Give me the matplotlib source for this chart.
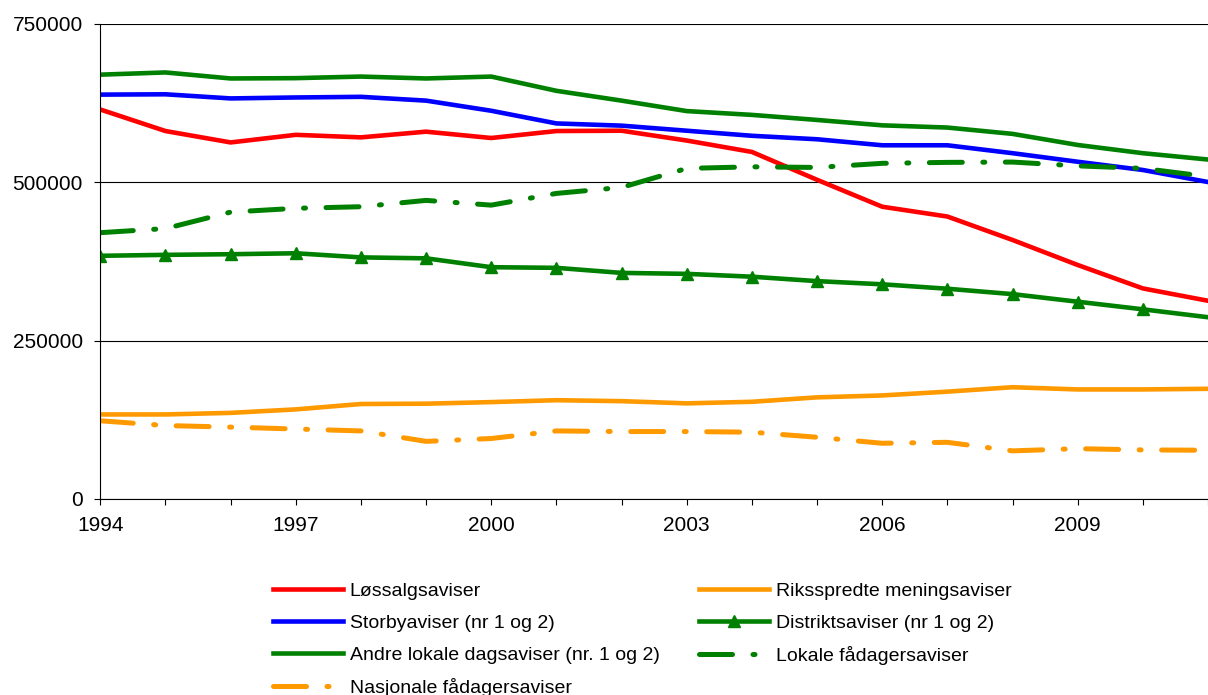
import numpy as np
import matplotlib.pyplot as plt

years = list(range(1994, 2012))

lossalg = [615000, 581000, 563000, 575000, 571000, 580000, 570000, 581000, 581500,
           566000, 548000, 504000, 461500, 446000, 409000, 369500, 332500, 313000]
storby = [638500, 639000, 632500, 634000, 635000, 629000, 613000, 593000, 589500,
          581500, 573500, 568000, 558500, 558500, 546000, 532500, 519500, 500500]
andre_lokale = [670000, 673500, 664000, 664500, 667000, 664000, 667000, 644500, 629000,
                612500, 606500, 598500, 590000, 586500, 576500, 559000, 546000, 536000]
rikssp = [133500, 133500, 136000, 141500, 150000, 150500, 153000, 156000, 154500,
          151000, 153500, 160500, 163500, 169500, 176500, 173000, 173000, 174000]
distrikt = [384000, 385500, 386500, 388000, 381500, 380000, 366000, 365000, 357000,
            355500, 351000, 344000, 339000, 332000, 323500, 311500, 299500, 287000]
lokale_fad = [420500, 427000, 453000, 459000, 461500, 471500, 464000, 482500, 492000,
              522000, 524500, 523500, 530000, 531500, 532000, 526000, 522000, 509000]
nasj_fad = [123500, 116000, 113500, 110500, 107500, 91000, 95500, 107500, 106500,
            106500, 105500, 97500, 88000, 89500, 76000, 79500, 77500, 77000]

GREEN = '#008000'
ORANGE = '#FF9900'

plt.rcParams['font.family'] = ['Liberation Sans', 'DejaVu Sans']

fig = plt.figure(figsize=(12.08, 6.95), dpi=100)
ax = fig.add_axes([100.3 / 1208, 1 - 499 / 695, (1208 - 100.3) / 1208, 475 / 695])

lw = 3.3
lw_d = 3.6
dd = (6.6, 4.1, 0.4, 4.1)

l1, = ax.plot(years, lossalg, color='red', lw=lw, label='Løssalgsaviser')
l2, = ax.plot(years, storby, color='blue', lw=lw, label='Storbyaviser (nr 1 og 2)')
l3, = ax.plot(years, andre_lokale, color=GREEN, lw=lw,
              label='Andre lokale dagsaviser (nr. 1 og 2)')
l4, = ax.plot(years, nasj_fad, color=ORANGE, lw=lw_d, dashes=dd,
              dash_capstyle='round', label='Nasjonale fådagersaviser')
l5, = ax.plot(years, rikssp, color=ORANGE, lw=lw, label='Riksspredte meningsaviser')
l6, = ax.plot(years, distrikt, color=GREEN, lw=lw, marker='^', markersize=8,
              markevery=slice(0, len(years) - 1),
              label='Distriktsaviser (nr 1 og 2)')
l7, = ax.plot(years, lokale_fad, color=GREEN, lw=lw_d, dashes=dd,
              dash_capstyle='round', label='Lokale fådagersaviser')

ax.set_xlim(1994, 1994 + (1208 - 100.3) / 65.9)
ax.set_ylim(0, 750000)
ax.set_yticks([0, 250000, 500000, 750000])
ax.set_yticklabels(['0', '250000', '500000', '750000'])
ax.set_xticks(years)
ax.set_xticklabels([str(y) if (y - 1994) % 3 == 0 else '' for y in years])
ax.tick_params(axis='both', direction='out', length=4.5, width=0.8,
               labelsize=15, pad=8)
ax.grid(axis='y', color='black', lw=0.8)
ax.set_axisbelow(True)
for s in ['top', 'right']:
    ax.spines[s].set_visible(False)
ax.spines['left'].set_linewidth(0.8)
ax.spines['bottom'].set_linewidth(0.8)

fig.legend(handles=[l1, l2, l3, l4, l5, l6, l7], ncol=2, frameon=False,
           loc='upper left', bbox_to_anchor=(273 / 1208, 1 - 582 / 695),
           fontsize=14, handlelength=3.6, handletextpad=0.35,
           columnspacing=2.03, labelspacing=0.74, borderpad=0, borderaxespad=0)

fig.savefig('out.png', dpi=100)
